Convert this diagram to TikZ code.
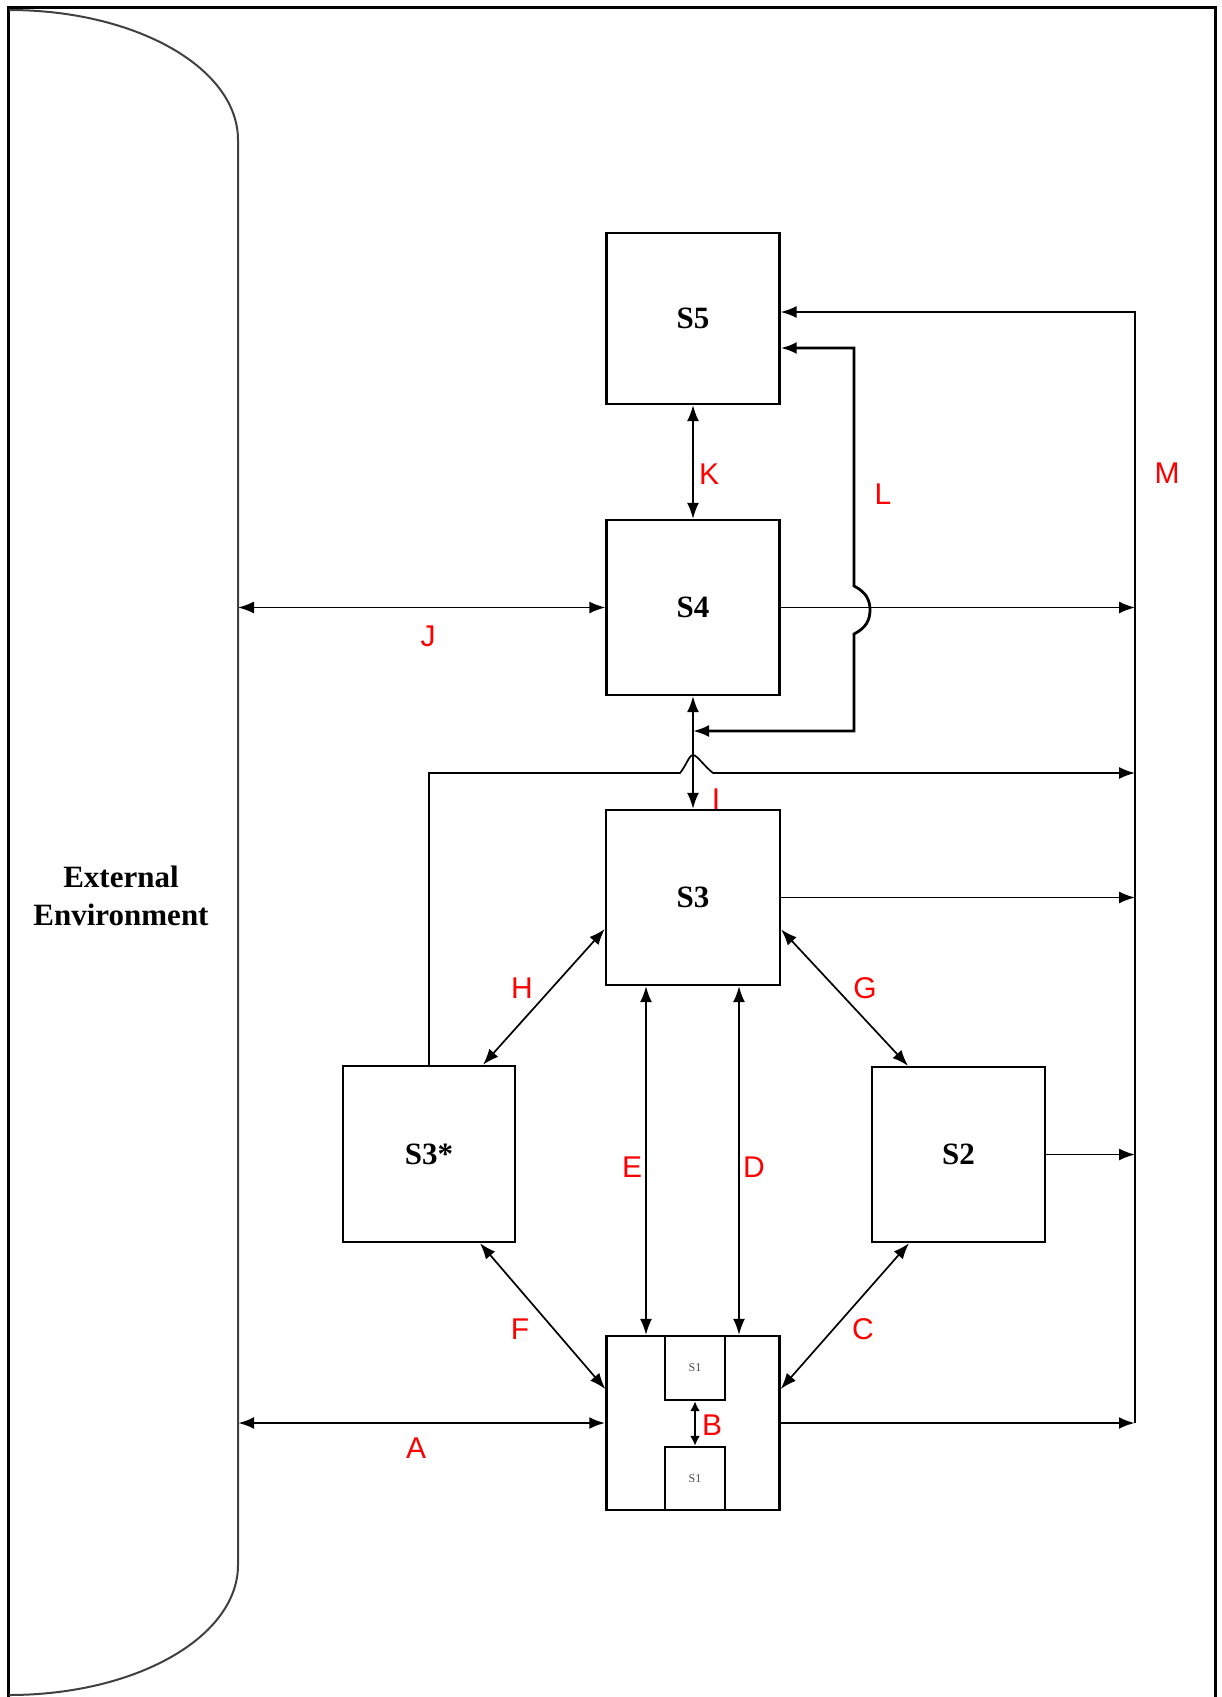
\documentclass[tikz,border=0pt]{standalone}
\usepackage{fontspec}
\setmainfont{Liberation Serif}
\newfontfamily\lblfont{Liberation Sans}
\usetikzlibrary{arrows.meta}
\begin{document}
\begin{tikzpicture}[x=0.5pt,y=-0.5pt,
  box/.style={draw, line width=1.2pt, inner sep=0pt,
              font=\fontsize{15.5}{18}\selectfont\bfseries},
  con/.style={line width=0.85pt},
  heavy/.style={line width=1.4pt},
  tip/.style={-{Latex[length=8pt,width=6pt]}},
  dtip/.style={{Latex[length=8pt,width=6pt]}-{Latex[length=8pt,width=6pt]}},
  smalltips/.style={{Latex[length=5pt,width=5pt]}-{Latex[length=5pt,width=5pt]}},
  lbl/.style={text=red, font=\lblfont\fontsize{15}{18}\selectfont, inner sep=0pt}
]
\useasboundingbox (0,0) rectangle (1221,1697);

% frame and environment boundary
\draw[line width=1.5pt] (8,1697) -- (8,7) -- (1215,7) -- (1215,1697);
\draw[line width=1pt, black!75] (9,10) .. controls (136,10) and (238,68) .. (238,140)
  -- (238,1565) .. controls (238,1637) and (136,1695) .. (9,1695);
\node[font=\fontsize{15.5}{19}\selectfont\bfseries, align=center] (ext) at (121,896)
  {External\\Environment};

% boxes
\node[box, minimum width=86.5pt, minimum height=85.5pt] (S5) at (693,318.5) {S5};
\node[box, minimum width=86.5pt, minimum height=87.5pt] (S4) at (693,607.5) {S4};
\node[box, minimum width=87pt, minimum height=87.5pt] (S3) at (693,897.5) {S3};
\node[box, minimum width=86pt, minimum height=88pt] (S3s) at (429,1154) {S3*};
\node[box, minimum width=86.5pt, minimum height=87.5pt] (S2) at (958.5,1154.5) {S2};
\node[box, minimum width=86.5pt, minimum height=87pt] (S1) at (693,1423) {};
\node[box, minimum width=30pt, minimum height=32pt, font=\fontsize{6}{7}\selectfont, text=black!70]
  (S1a) at (695,1368) {S1};
\node[box, minimum width=30pt, minimum height=31.5pt, font=\fontsize{6}{7}\selectfont, text=black!70]
  (S1b) at (695,1478.5) {S1};

% coordinates
\coordinate (envJ) at (238,607.5);
\coordinate (envA) at (238,1423);
\coordinate (Mtop) at (1135,312);
\coordinate (Mbot) at (1135,1423);
\coordinate (Lk1) at (854,348);
\coordinate (Lk2) at (854,731);
\coordinate (Lend) at (693,731);
\coordinate (Sup) at (429,773);
\coordinate (Sright) at (1135,773);

% J, A
\draw[con,dtip] (envJ) -- (S4.west);
\draw[heavy,dtip] (envA) -- (S1.west);
% K, I
\draw[con,dtip] (S5.south) -- (S4.north);
\draw[con,dtip] (S4.south) -- (S3.north);
% M
\draw[con,tip] (Mbot) -- (Mtop) -- (S5.east |- Mtop);
% L with hump over the S4 line
\draw[heavy,dtip] (S5.east |- Lk1) -- (Lk1) -- (854,586)
  .. controls (866,592) and (870,600) .. (870,610)
  .. controls (870,620) and (866,628) .. (854,634)
  -- (Lk2) -- (Lend);
% outputs to M
\draw[con,tip] (S4.east) -- (Mtop |- S4.east);
\draw[con,tip] (S3s.north) -- (Sup) -- (680,773)
  .. controls (686,766) and (689,755) .. (693,755)
  .. controls (697,755) and (704,766) .. (713,773) -- (Sright);
\draw[con,tip] (S3.east) -- (Mtop |- S3.east);
\draw[con,tip] (S2.east) -- (Mtop |- S2.east);
\draw[heavy,tip] (S1.east) -- (Mbot);
% diagonals
\draw[con,dtip] ([yshift=-15.75pt]S3.west) -- ([xshift=27pt]S3s.north);
\draw[con,dtip] ([yshift=-16pt]S3.east) -- ([xshift=-25.25pt]S2.north);
\draw[con,dtip] ([xshift=25.5pt]S3s.south) -- ([yshift=17pt]S1.west);
\draw[con,dtip] ([xshift=-24.75pt]S2.south) -- ([yshift=17pt]S1.east);
% E, D
\draw[con,dtip] ([xshift=-23.5pt]S3.south) -- ([xshift=-23.5pt]S1.north);
\draw[con,dtip] ([xshift=23pt]S3.south) -- ([xshift=23pt]S1.north);
% B
\draw[heavy,smalltips] (S1a.south) -- (S1b.north);

% labels
\node[lbl] (lK) at (709,474) {K};
\node[lbl] (lL) at (883,494) {L};
\node[lbl] (lM) at (1167,473) {M};
\node[lbl] (lJ) at (428,636) {J};
\node[lbl] (lI) at (716,799) {I};
\node[lbl] (lH) at (522,988) {H};
\node[lbl] (lG) at (865,988) {G};
\node[lbl] (lE) at (632,1167) {E};
\node[lbl] (lD) at (754,1167) {D};
\node[lbl] (lF) at (520,1329) {F};
\node[lbl] (lC) at (863,1329) {C};
\node[lbl] (lB) at (712,1425) {B};
\node[lbl] (lA) at (416,1448) {A};
\end{tikzpicture}
\end{document}
